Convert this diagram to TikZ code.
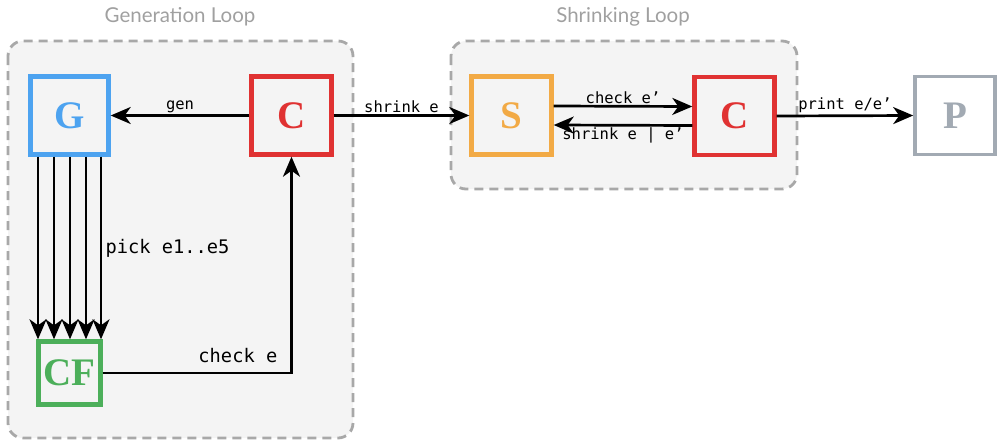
\documentclass[tikz,border=0pt]{standalone}
\usepackage{fontspec}
\setmonofont{DejaVu Sans Mono}
\newfontfamily\titlefont{Lato}
\newfontfamily\letterfont{Liberation Serif}
\usetikzlibrary{arrows.meta,calc}
\newdimen\px \px=0.75pt
\definecolor{gblue}{HTML}{4DA3F0}
\definecolor{cred}{HTML}{E03232}
\definecolor{cfgreen}{HTML}{4CAF5A}
\definecolor{sorange}{HTML}{F2AA45}
\definecolor{pgray}{HTML}{A2AAB3}
\definecolor{loopborder}{HTML}{A8A8A8}
\definecolor{loopfill}{HTML}{F4F4F4}
\definecolor{titlegray}{HTML}{A0A0A0}
\tikzset{
  letterbox/.style={draw, line width=4.4\px, fill=loopfill, inner sep=0pt,
    font=\letterfont\bfseries\fontsize{39\px}{41\px}\selectfont},
  loopbox/.style={draw=loopborder, fill=loopfill, dashed, line width=2.8\px,
    dash pattern=on 9\px off 6\px, rounded corners=15\px},
  looptitle/.style={text=titlegray, font=\titlefont\fontsize{20.5\px}{23\px}\selectfont},
  conn/.style={line width=2.7\px, -{Stealth[length=15pt,width=12.75pt,inset=4.5pt]}},
  lbl/.style={font=\ttfamily\fontsize{15.5\px}{17\px}\selectfont, inner sep=1pt},
  biglbl/.style={font=\ttfamily\fontsize{18.7\px}{20\px}\selectfont, inner sep=1pt}
}
\begin{document}
\begin{tikzpicture}[x=1\px,y=-1\px]
\useasboundingbox (0,0) rectangle (998,443);
% loops
\draw[loopbox] (8,41) rectangle (353,438);
\draw[loopbox] (451,41) rectangle (797,189);
\node[looptitle] (gt) at (180,17) {Generation Loop};
\node[looptitle] (st) at (623,17) {Shrinking Loop};
% nodes
\node[letterbox, draw=gblue, text=gblue, minimum width=78\px, minimum height=78\px] (G) at (69.5,115.5) {G};
\node[letterbox, draw=cred, text=cred, minimum width=80\px, minimum height=78\px] (C1) at (291.5,115.5) {C};
\node[letterbox, draw=cfgreen, text=cfgreen, minimum width=62\px, minimum height=63\px] (CF) at (69.5,373) {CF};
\node[letterbox, draw=sorange, text=sorange, minimum width=80\px, minimum height=78\px] (S) at (511.5,115.5) {S};
\node[letterbox, draw=cred, text=cred, minimum width=80\px, minimum height=78\px] (C2) at (734.5,116) {C};
\node[letterbox, draw=pgray, text=pgray, fill=white, line width=3.6\px, minimum width=80\px, minimum height=78\px] (P) at (955,115.5) {P};
% connectors
\draw[conn] (C1.west) -- node[lbl, above] {gen} (G.east);
\foreach \dx in {-31.5,-15.5,0.5,16.5,31.5} {
  \draw[conn] ([xshift=\dx\px]G.south) -- ([xshift=\dx\px]CF.north);
}
\node[biglbl, anchor=west] (pick) at (104,248) {pick e1..e5};
\draw[conn] (CF.east) -| node[biglbl, pos=0.358, above=8\px] {check e} (C1.south);
\draw[conn] (C1.east) -- node[lbl, above] {shrink e} (S.west);
\draw[conn] ([yshift=9.5\px]S.east) -- node[lbl, above] {check e’} ([yshift=9.5\px]C2.west);
\draw[conn] ([yshift=-9.5\px]C2.west) -- node[lbl, below] {shrink e | e’} ([yshift=-9.5\px]S.east);
\draw[conn] (C2.east) -- node[lbl, above] {print e/e’} (P.west);
\end{tikzpicture}
\end{document}
